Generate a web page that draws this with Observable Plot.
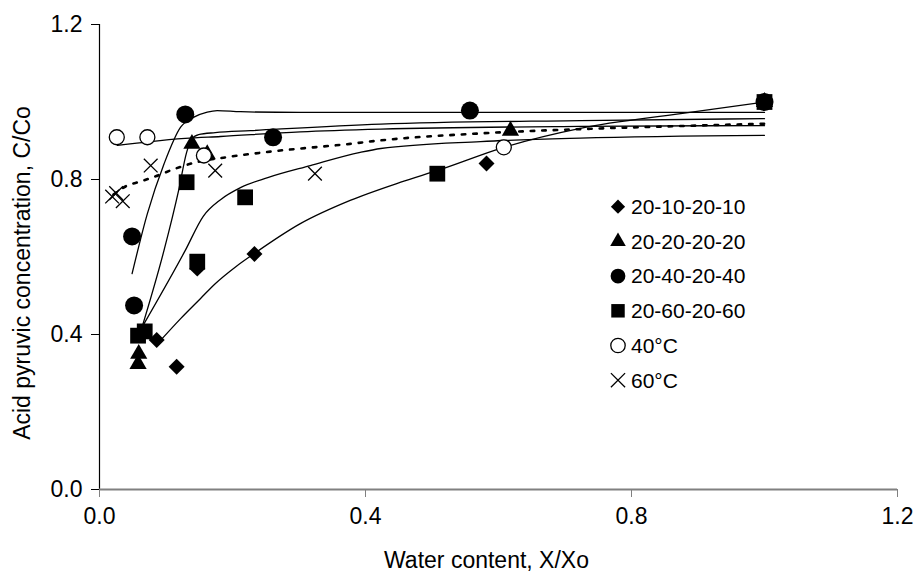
<!DOCTYPE html>
<html><head><meta charset="utf-8">
<script src="https://cdn.jsdelivr.net/npm/d3@7"></script>
<script src="https://cdn.jsdelivr.net/npm/@observablehq/plot@0.6"></script>
<style>
body{margin:0;background:#fff;font-family:"Liberation Sans",Arial,sans-serif;}
#wrap{position:relative;width:915px;height:572px;}
#legend{position:absolute;left:0;top:0;pointer-events:none;}
</style></head><body><div id="wrap"></div>
<script>
// ---- data ----
const seriesNames = ["20-10-20-10","20-20-20-20","20-40-20-40","20-60-20-60","40°C","60°C"];
const yTicks = [0.0, 0.4, 0.8, 1.2];
const xTicks = [0.0, 0.4, 0.8, 1.2];

// measured points
const x1010 = [0.086, 0.116, 0.147, 0.233, 0.582, 1.0];
const y1010 = [0.386, 0.317, 0.570, 0.608, 0.841, 1.0];
const x2020 = [0.059, 0.058, 0.139, 0.162, 0.618, 1.0];
const y2020 = [0.350, 0.324, 0.892, 0.865, 0.926, 1.0];
const x4040 = [0.049, 0.052, 0.129, 0.261, 0.557, 1.0];
const y4040 = [0.653, 0.475, 0.968, 0.909, 0.978, 1.0];
const x6060 = [0.058, 0.068, 0.131, 0.147, 0.219, 0.508, 1.0];
const y6060 = [0.397, 0.408, 0.793, 0.588, 0.754, 0.815, 1.0];
const x40C = [0.026, 0.072, 0.157, 0.608];
const y40C = [0.909, 0.909, 0.862, 0.883];
const x60C = [0.019, 0.025, 0.035, 0.077, 0.174, 0.324];
const y60C = [0.756, 0.765, 0.744, 0.836, 0.823, 0.815];

// fitted curves
const fx1010 = [0.094,0.122,0.152,0.174,0.205,0.232,0.302,0.377,0.453,0.513,0.608,0.723,0.874,1.0];
const fy1010 = [0.389,0.441,0.493,0.531,0.575,0.608,0.686,0.746,0.793,0.826,0.883,0.932,0.970,1.0];
const fx2020 = [0.064,0.097,0.119,0.131,0.138,0.149,0.174,0.227,0.423,0.723,1.0];
const fy2020 = [0.419,0.617,0.772,0.870,0.903,0.916,0.921,0.926,0.943,0.952,0.957];
const fx4040 = [0.049,0.072,0.097,0.122,0.142,0.162,0.177,0.212,0.302,0.453,1.0];
const fy4040 = [0.557,0.712,0.840,0.935,0.961,0.974,0.978,0.975,0.973,0.973,0.973];
const fx6060 = [0.064,0.129,0.156,0.182,0.212,0.253,0.317,0.392,0.423,0.573,0.723,1.0];
const fy6060 = [0.419,0.617,0.705,0.748,0.779,0.805,0.836,0.870,0.880,0.898,0.907,0.914];
const fx40C = [0.027,0.077,0.129,0.182,0.302,0.423,0.723,1.0];
const fy40C = [0.888,0.898,0.906,0.911,0.923,0.930,0.937,0.939];
const fx60C = [0.021,0.039,0.062,0.084,0.114,0.144,0.189,0.257,0.377,0.423,0.573,0.723,0.874,1.0];
const fy60C = [0.761,0.782,0.795,0.808,0.828,0.844,0.857,0.872,0.892,0.901,0.919,0.930,0.938,0.944];

// ---- build tables ----
const zip = (s, xs, ys) => xs.map((x, i) => ({series: s, x, y: ys[i]}));
const pts = [
  zip(seriesNames[0], x1010, y1010),
  zip(seriesNames[1], x2020, y2020),
  zip(seriesNames[2], x4040, y4040),
  zip(seriesNames[3], x6060, y6060),
  zip(seriesNames[4], x40C, y40C),
  zip(seriesNames[5], x60C, y60C)
];
const fits = [
  zip(seriesNames[0], fx1010, fy1010),
  zip(seriesNames[1], fx2020, fy2020),
  zip(seriesNames[2], fx4040, fy4040),
  zip(seriesNames[3], fx6060, fy6060),
  zip(seriesNames[4], fx40C, fy40C),
  zip(seriesNames[5], fx60C, fy60C)
];

// symbol styles per series
const styles = [
  {symbol: "diamond2", r: 7.2, fill: "black", stroke: "none", lr: 6.4},
  {symbol: "triangle", r: 6.4, fill: "black", stroke: "none", lr: 5.8},
  {symbol: "circle",   r: 9,   fill: "black", stroke: "none", lr: 7.4},
  {symbol: "square",   r: 8.9, fill: "black", stroke: "none", lr: 7.6},
  {symbol: "circle",   r: 7.5, fill: "white", stroke: "black", lr: 7.2},
  {symbol: "times",    r: 6.3, fill: "none",  stroke: "black", lr: 6.5}
];

const FONT = "'Liberation Sans', Arial, sans-serif";
const FS = 23;
const LFS = 21;

const marks = [];
// fit lines
fits.forEach((f, i) => {
  marks.push(Plot.line(f, {x: "x", y: "y", curve: "monotone-x", stroke: "black",
    strokeWidth: i === 5 ? 2.6 : 1.3,
    strokeDasharray: i === 5 ? "3.5,8" : null}));
});
// points
pts.forEach((p, i) => {
  const s = styles[i];
  marks.push(Plot.dot(p, {x: "x", y: "y", symbol: () => s.symbol, r: s.r,
    fill: s.fill, stroke: s.stroke, strokeWidth: 1.3}));
});

const chart = Plot.plot({
  width: 915, height: 572,
  marginLeft: 99, marginRight: 18, marginTop: 24, marginBottom: 83,
  style: {fontFamily: FONT, fontSize: FS + "px", background: "white", color: "black"},
  x: {domain: [0, 1.2]},
  y: {domain: [0, 1.2]},
  symbol: {type: "identity"},
  marks: [
    Plot.axisY({ticks: yTicks, tickFormat: d3.format(".1f"), tickSize: 8, tickPadding: 9,
      fontSize: FS, label: null, stroke: "black"}),
    Plot.axisX({ticks: xTicks, tickFormat: d3.format(".1f"), tickSize: 8, tickPadding: 10,
      fontSize: FS, label: null, stroke: "#808080"}),
    Plot.ruleX([0], {stroke: "black", strokeWidth: 1.2}),
    ...marks,
    Plot.ruleY([0], {stroke: "#808080", strokeWidth: 2}),
    Plot.text(["Water content, X/Xo"], {text: d => d, frameAnchor: "bottom", textAnchor: "middle",
      lineAnchor: "middle", dy: 71, dx: -12, fontSize: FS}),
    Plot.text(["Acid pyruvic concentration, C/Co"], {text: d => d, frameAnchor: "left", textAnchor: "middle",
      lineAnchor: "middle", rotate: -90, dx: -77, dy: 16, fontSize: FS})
  ]
});
const wrap = document.getElementById("wrap");
wrap.appendChild(chart);

// legend overlay
const symMap = {diamond2: d3.symbolDiamond2, triangle: d3.symbolTriangle, circle: d3.symbolCircle,
  square: d3.symbolSquare, times: d3.symbolTimes};
const lg = d3.select(wrap).append("svg").attr("id", "legend").attr("width", 915).attr("height", 572);
seriesNames.forEach((name, i) => {
  const s = styles[i];
  const g = lg.append("g").attr("transform", `translate(618,${206.7 + i * 34.7})`);
  g.append("path").attr("d", d3.symbol(symMap[s.symbol], Math.PI * s.lr * s.lr)())
    .attr("fill", s.fill).attr("stroke", s.stroke).attr("stroke-width", 1.3);
  g.append("text").attr("x", 13).attr("dy", "0.35em").attr("font-family", FONT)
    .attr("font-size", LFS).text(name);
});
</script></body></html>
